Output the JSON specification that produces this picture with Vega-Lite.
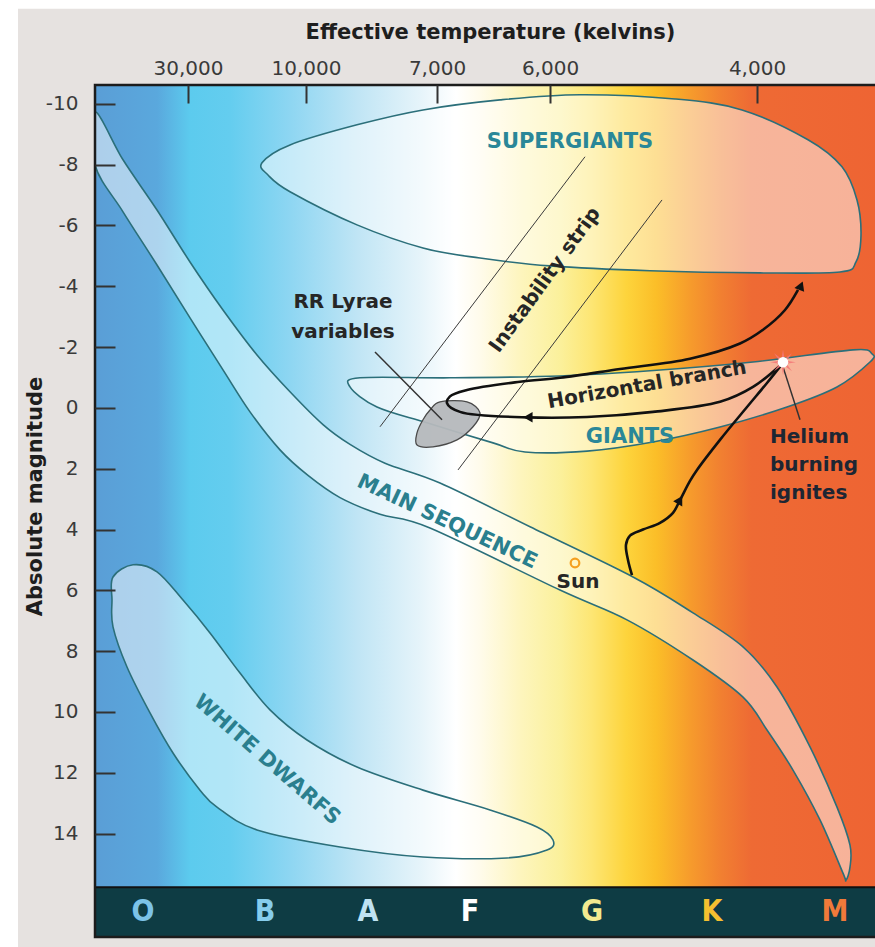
{
  "$schema": "https://vega.github.io/schema/vega-lite/v6.json",
  "width": 780,
  "height": 852,
  "autosize": {"type": "none"},
  "padding": {"left": 95, "top": 85, "right": 0, "bottom": 10},
  "background": "white",
  "config": {
    "view": {"stroke": null},
    "axis": {
      "labelFont": "DejaVu Sans",
      "labelFontSize": 20,
      "labelColor": "#3a3a3a",
      "titleFont": "DejaVu Sans",
      "titleFontSize": 21,
      "titleFontWeight": "bold",
      "titleColor": "#1e1e1e"
    }
  },
  "datasets": {
    "panel": [{"x": -77, "x2": 782, "m": -13.13, "m2": 17.73}],
    "plot": [{"x": 0, "x2": 782, "m": -10.62, "m2": 15.76}],
    "bar": [{"x": 0, "x2": 782, "m": 15.76, "m2": 17.4}],
    "frame": [{"x": 0, "x2": 782, "m": -10.62, "m2": 17.4}],
    "regions": [
      {"region": "ms", "i": 1, "x": 0, "m": -9.74},
      {"region": "ms", "i": 2, "x": 28, "m": -8.16},
      {"region": "ms", "i": 3, "x": 62, "m": -6.51},
      {"region": "ms", "i": 4, "x": 95, "m": -4.8},
      {"region": "ms", "i": 5, "x": 128, "m": -3.22},
      {"region": "ms", "i": 6, "x": 162, "m": -1.74},
      {"region": "ms", "i": 7, "x": 195, "m": -0.53},
      {"region": "ms", "i": 8, "x": 228, "m": 0.55},
      {"region": "ms", "i": 9, "x": 255, "m": 1.2},
      {"region": "ms", "i": 10, "x": 290, "m": 1.82},
      {"region": "ms", "i": 11, "x": 345, "m": 2.47},
      {"region": "ms", "i": 12, "x": 435, "m": 3.91},
      {"region": "ms", "i": 13, "x": 538, "m": 5.56},
      {"region": "ms", "i": 14, "x": 598, "m": 6.74},
      {"region": "ms", "i": 15, "x": 648, "m": 7.86},
      {"region": "ms", "i": 16, "x": 682, "m": 9.18},
      {"region": "ms", "i": 17, "x": 715, "m": 11.15},
      {"region": "ms", "i": 18, "x": 742, "m": 13.13},
      {"region": "ms", "i": 19, "x": 755, "m": 14.38},
      {"region": "ms", "i": 20, "x": 755, "m": 15.1},
      {"region": "ms", "i": 21, "x": 751, "m": 15.53},
      {"region": "ms", "i": 22, "x": 748, "m": 15.3},
      {"region": "ms", "i": 23, "x": 725, "m": 13.55},
      {"region": "ms", "i": 24, "x": 698, "m": 11.91},
      {"region": "ms", "i": 25, "x": 672, "m": 10.59},
      {"region": "ms", "i": 26, "x": 648, "m": 9.51},
      {"region": "ms", "i": 27, "x": 598, "m": 8.29},
      {"region": "ms", "i": 28, "x": 532, "m": 6.97},
      {"region": "ms", "i": 29, "x": 465, "m": 5.99},
      {"region": "ms", "i": 30, "x": 335, "m": 3.95},
      {"region": "ms", "i": 31, "x": 285, "m": 3.5},
      {"region": "ms", "i": 32, "x": 245, "m": 2.95},
      {"region": "ms", "i": 33, "x": 213, "m": 2.22},
      {"region": "ms", "i": 34, "x": 185, "m": 1.38},
      {"region": "ms", "i": 35, "x": 155, "m": 0.13},
      {"region": "ms", "i": 36, "x": 128, "m": -1.25},
      {"region": "ms", "i": 37, "x": 95, "m": -2.96},
      {"region": "ms", "i": 38, "x": 62, "m": -4.7},
      {"region": "ms", "i": 39, "x": 28, "m": -6.45},
      {"region": "ms", "i": 40, "x": 0, "m": -7.99},
      {"region": "sg", "i": 1, "x": 167, "m": -8.06},
      {"region": "sg", "i": 2, "x": 195, "m": -8.65},
      {"region": "sg", "i": 3, "x": 262, "m": -9.31},
      {"region": "sg", "i": 4, "x": 328, "m": -9.8},
      {"region": "sg", "i": 5, "x": 405, "m": -10.13},
      {"region": "sg", "i": 6, "x": 485, "m": -10.3},
      {"region": "sg", "i": 7, "x": 580, "m": -10.16},
      {"region": "sg", "i": 8, "x": 647, "m": -9.8},
      {"region": "sg", "i": 9, "x": 713, "m": -8.82},
      {"region": "sg", "i": 10, "x": 747, "m": -7.93},
      {"region": "sg", "i": 11, "x": 762, "m": -6.84},
      {"region": "sg", "i": 12, "x": 766, "m": -5.69},
      {"region": "sg", "i": 13, "x": 761, "m": -4.8},
      {"region": "sg", "i": 14, "x": 745, "m": -4.47},
      {"region": "sg", "i": 15, "x": 665, "m": -4.44},
      {"region": "sg", "i": 16, "x": 555, "m": -4.51},
      {"region": "sg", "i": 17, "x": 455, "m": -4.67},
      {"region": "sg", "i": 18, "x": 385, "m": -4.93},
      {"region": "sg", "i": 19, "x": 328, "m": -5.26},
      {"region": "sg", "i": 20, "x": 262, "m": -6.02},
      {"region": "sg", "i": 21, "x": 195, "m": -7.11},
      {"region": "sg", "i": 22, "x": 173, "m": -7.66},
      {"region": "gi", "i": 1, "x": 255, "m": -0.69},
      {"region": "gi", "i": 2, "x": 265, "m": -0.99},
      {"region": "gi", "i": 3, "x": 355, "m": -0.99},
      {"region": "gi", "i": 4, "x": 465, "m": -1.05},
      {"region": "gi", "i": 5, "x": 555, "m": -1.22},
      {"region": "gi", "i": 6, "x": 658, "m": -1.51},
      {"region": "gi", "i": 7, "x": 758, "m": -1.91},
      {"region": "gi", "i": 8, "x": 777, "m": -1.78},
      {"region": "gi", "i": 9, "x": 775, "m": -1.51},
      {"region": "gi", "i": 10, "x": 742, "m": -0.69},
      {"region": "gi", "i": 11, "x": 692, "m": -0.03},
      {"region": "gi", "i": 12, "x": 625, "m": 0.63},
      {"region": "gi", "i": 13, "x": 558, "m": 1.12},
      {"region": "gi", "i": 14, "x": 492, "m": 1.42},
      {"region": "gi", "i": 15, "x": 430, "m": 1.45},
      {"region": "gi", "i": 16, "x": 398, "m": 1.15},
      {"region": "gi", "i": 17, "x": 332, "m": 0.49},
      {"region": "gi", "i": 18, "x": 282, "m": -0.03},
      {"region": "wd", "i": 1, "x": 18, "m": 5.56},
      {"region": "wd", "i": 2, "x": 38, "m": 5.16},
      {"region": "wd", "i": 3, "x": 62, "m": 5.39},
      {"region": "wd", "i": 4, "x": 88, "m": 6.32},
      {"region": "wd", "i": 5, "x": 115, "m": 7.4},
      {"region": "wd", "i": 6, "x": 145, "m": 8.72},
      {"region": "wd", "i": 7, "x": 175, "m": 9.93},
      {"region": "wd", "i": 8, "x": 212, "m": 10.92},
      {"region": "wd", "i": 9, "x": 262, "m": 11.81},
      {"region": "wd", "i": 10, "x": 328, "m": 12.57},
      {"region": "wd", "i": 11, "x": 395, "m": 13.22},
      {"region": "wd", "i": 12, "x": 442, "m": 13.78},
      {"region": "wd", "i": 13, "x": 458, "m": 14.21},
      {"region": "wd", "i": 14, "x": 452, "m": 14.54},
      {"region": "wd", "i": 15, "x": 412, "m": 14.8},
      {"region": "wd", "i": 16, "x": 328, "m": 14.77},
      {"region": "wd", "i": 17, "x": 245, "m": 14.44},
      {"region": "wd", "i": 18, "x": 162, "m": 13.88},
      {"region": "wd", "i": 19, "x": 122, "m": 13.13},
      {"region": "wd", "i": 20, "x": 105, "m": 12.57},
      {"region": "wd", "i": 21, "x": 78, "m": 11.35},
      {"region": "wd", "i": 22, "x": 55, "m": 10.03},
      {"region": "wd", "i": 23, "x": 32, "m": 8.52},
      {"region": "wd", "i": 24, "x": 18, "m": 7.2},
      {"region": "wd", "i": 25, "x": 17, "m": 6.32}
    ],
    "rrlyrae": [
      {"i": 1, "x": 345, "m": -0.2},
      {"i": 2, "x": 372, "m": -0.2},
      {"i": 3, "x": 385, "m": 0.16},
      {"i": 4, "x": 378, "m": 0.62},
      {"i": 5, "x": 362, "m": 1.05},
      {"i": 6, "x": 338, "m": 1.28},
      {"i": 7, "x": 322, "m": 1.22},
      {"i": 8, "x": 322, "m": 0.82},
      {"i": 9, "x": 328, "m": 0.39},
      {"i": 10, "x": 335, "m": 0.07}
    ],
    "strip": [
      {"x": 285, "m": 0.62, "x2": 490, "m2": -8.26},
      {"x": 363, "m": 2.04, "x2": 567, "m2": -6.84}
    ],
    "pointers": [
      {"x": 280, "m": -1.84, "x2": 347, "m2": 0.39},
      {"x": 688, "m": -1.35, "x2": 705, "m2": 0.39}
    ],
    "tracks": [
      {"track": "rgb", "i": 1, "x": 537, "m": 5.5},
      {"track": "rgb", "i": 2, "x": 533, "m": 5.0},
      {"track": "rgb", "i": 3, "x": 531, "m": 4.5},
      {"track": "rgb", "i": 4, "x": 535, "m": 4.2},
      {"track": "rgb", "i": 5, "x": 548, "m": 4.0},
      {"track": "rgb", "i": 6, "x": 565, "m": 3.78},
      {"track": "rgb", "i": 7, "x": 578, "m": 3.45},
      {"track": "rgb", "i": 8, "x": 585, "m": 3.03},
      {"track": "rgb", "i": 9, "x": 595, "m": 2.4},
      {"track": "rgb", "i": 10, "x": 602, "m": 2.04},
      {"track": "rgb", "i": 11, "x": 625, "m": 1.05},
      {"track": "rgb", "i": 12, "x": 652, "m": -0.03},
      {"track": "rgb", "i": 13, "x": 672, "m": -0.82},
      {"track": "rgb", "i": 14, "x": 688, "m": -1.48},
      {"track": "hb", "i": 1, "x": 688, "m": -1.48},
      {"track": "hb", "i": 2, "x": 658, "m": -0.69},
      {"track": "hb", "i": 3, "x": 625, "m": -0.2},
      {"track": "hb", "i": 4, "x": 558, "m": 0.13},
      {"track": "hb", "i": 5, "x": 492, "m": 0.3},
      {"track": "hb", "i": 6, "x": 432, "m": 0.31},
      {"track": "hb", "i": 7, "x": 365, "m": 0.13},
      {"track": "hb", "i": 8, "x": 352, "m": -0.16},
      {"track": "hb", "i": 9, "x": 355, "m": -0.38},
      {"track": "hb", "i": 10, "x": 372, "m": -0.59},
      {"track": "hb", "i": 11, "x": 425, "m": -0.86},
      {"track": "hb", "i": 12, "x": 465, "m": -0.99},
      {"track": "hb", "i": 13, "x": 525, "m": -1.28},
      {"track": "hb", "i": 14, "x": 595, "m": -1.62},
      {"track": "hb", "i": 15, "x": 645, "m": -2.12},
      {"track": "hb", "i": 16, "x": 668, "m": -2.57},
      {"track": "hb", "i": 17, "x": 690, "m": -3.22},
      {"track": "hb", "i": 18, "x": 703, "m": -3.88}
    ],
    "arrows": [
      {"kind": "rgb", "x": 585, "m": 3.03},
      {"kind": "hb", "x": 433, "m": 0.31},
      {"kind": "agb", "x": 706, "m": -4.02}
    ],
    "flash": [{"x": 688, "m": -1.5}],
    "sun": [{"x": 480, "m": 5.1}],
    "tealFlat": [
      {"label": "SUPERGIANTS", "x": 475, "m": -8.75},
      {"label": "GIANTS", "x": 535, "m": 0.95}
    ],
    "tealMS": [{"label": "MAIN SEQUENCE", "x": 352, "m": 3.75}],
    "tealWD": [{"label": "WHITE DWARFS", "x": 172, "m": 11.58}],
    "darkFlat": [
      {"label": "RR Lyrae\nvariables", "x": 248, "m": -3.49},
      {"label": "Sun", "x": 483, "m": 5.72}
    ],
    "helium": [{"label": "Helium\nburning\nignites", "x": 675, "m": 0.95}],
    "hbLabel": [{"label": "Horizontal branch", "x": 552, "m": -0.76}],
    "stripLabel": [{"label": "Instability strip", "x": 450, "m": -4.21}],
    "classes": [
      {"cls": "O", "x": 48, "m": 16.58},
      {"cls": "B", "x": 170, "m": 16.58},
      {"cls": "A", "x": 273, "m": 16.58},
      {"cls": "F", "x": 375, "m": 16.58},
      {"cls": "G", "x": 497, "m": 16.58},
      {"cls": "K", "x": 617, "m": 16.58},
      {"cls": "M", "x": 740, "m": 16.58}
    ]
  },
  "encoding": {
    "x": {
      "field": "x",
      "type": "quantitative",
      "scale": {"domain": [0, 780], "nice": false, "zero": false},
      "axis": {
        "orient": "top",
        "zindex": 1,
        "title": "Effective temperature (kelvins)",
        "values": [93, 211, 342, 455, 662],
        "labelExpr": "datum.value == 93 ? '30,000' : datum.value == 211 ? '10,000' : datum.value == 342 ? '7,000' : datum.value == 455 ? '6,000' : '4,000'",
        "ticks": true,
        "tickSize": -18,
        "tickWidth": 2,
        "tickColor": "#333333",
        "domain": false,
        "grid": false,
        "labelPadding": 25,
        "titleX": 395,
        "titleY": -47,
        "titleBaseline": "alphabetic"
      }
    },
    "y": {
      "field": "m",
      "type": "quantitative",
      "scale": {"domain": [-10.62, 17.4], "reverse": true, "nice": false, "zero": false},
      "axis": {
        "zindex": 1,
        "title": "Absolute magnitude",
        "values": [-10, -8, -6, -4, -2, 0, 2, 4, 6, 8, 10, 12, 14],
        "labelExpr": "datum.value < 0 ? '-' + abs(datum.value) : '' + datum.value",
        "ticks": true,
        "tickSize": -20,
        "tickWidth": 2,
        "tickColor": "#333333",
        "domain": false,
        "grid": false,
        "labelPadding": 37,
        "titleX": -54,
        "titleY": 411,
        "titleBaseline": "alphabetic"
      }
    }
  },
  "layer": [
    {
      "data": {"name": "panel"},
      "mark": {"type": "rect", "fill": "#e6e2e0"},
      "encoding": {"x2": {"field": "x2"}, "y2": {"field": "m2"}}
    },
    {
      "data": {"name": "plot"},
      "mark": {
        "type": "rect",
        "fill": {
          "gradient": "linear",
          "x1": 0, "y1": 0, "x2": 1, "y2": 0,
          "stops": [
            {"offset": 0, "color": "#5a9ed6"},
            {"offset": 0.0795, "color": "#5aa8dd"},
            {"offset": 0.1218, "color": "#5ccbee"},
            {"offset": 0.1731, "color": "#64cdef"},
            {"offset": 0.25, "color": "#8ed6f2"},
            {"offset": 0.3359, "color": "#c0e5f5"},
            {"offset": 0.4167, "color": "#e6f4fa"},
            {"offset": 0.4615, "color": "#ffffff"},
            {"offset": 0.4936, "color": "#fffbea"},
            {"offset": 0.5449, "color": "#fdf5bd"},
            {"offset": 0.5962, "color": "#fbf09a"},
            {"offset": 0.6346, "color": "#fde674"},
            {"offset": 0.6795, "color": "#fdd43c"},
            {"offset": 0.7179, "color": "#fbbe28"},
            {"offset": 0.7628, "color": "#f69a2c"},
            {"offset": 0.8013, "color": "#f17f31"},
            {"offset": 0.8397, "color": "#ee6a34"},
            {"offset": 1, "color": "#ee6433"}
          ]
        }
      },
      "encoding": {"x2": {"field": "x2"}, "y2": {"field": "m2"}}
    },
    {
      "data": {"name": "regions"},
      "mark": {"type": "line", "interpolate": "cardinal-closed", "fill": "white", "fillOpacity": 0.5, "stroke": "#2b6f7a", "strokeWidth": 1.6, "clip": true},
      "encoding": {"detail": {"field": "region"}, "order": {"field": "i", "type": "quantitative"}}
    },
    {
      "data": {"name": "rrlyrae"},
      "mark": {"type": "line", "interpolate": "cardinal-closed", "fill": "#b5b8bc", "fillOpacity": 0.95, "stroke": "#4a4a4a", "strokeWidth": 1.3},
      "encoding": {"order": {"field": "i", "type": "quantitative"}}
    },
    {
      "data": {"name": "strip"},
      "mark": {"type": "rule", "stroke": "#3a3a3a", "strokeWidth": 1},
      "encoding": {"x2": {"field": "x2"}, "y2": {"field": "m2"}}
    },
    {
      "data": {"name": "pointers"},
      "mark": {"type": "rule", "stroke": "#333333", "strokeWidth": 1.5},
      "encoding": {"x2": {"field": "x2"}, "y2": {"field": "m2"}}
    },
    {
      "data": {"name": "tracks"},
      "mark": {"type": "line", "interpolate": "catmull-rom", "stroke": "#111111", "strokeWidth": 2.6},
      "encoding": {"detail": {"field": "track"}, "order": {"field": "i", "type": "quantitative"}}
    },
    {
      "data": {"name": "arrows"},
      "transform": [{"filter": "datum.kind == 'rgb'"}],
      "mark": {"type": "point", "shape": "triangle-up", "filled": true, "color": "#111111", "size": 110, "angle": 30, "opacity": 1},
      "encoding": {}
    },
    {
      "data": {"name": "arrows"},
      "transform": [{"filter": "datum.kind == 'agb'"}],
      "mark": {"type": "point", "shape": "triangle-up", "filled": true, "color": "#111111", "size": 110, "angle": 22, "opacity": 1},
      "encoding": {}
    },
    {
      "data": {"name": "arrows"},
      "transform": [{"filter": "datum.kind == 'hb'"}],
      "mark": {"type": "point", "shape": "triangle-left", "filled": true, "color": "#111111", "size": 110, "opacity": 1},
      "encoding": {}
    },
    {
      "data": {"name": "flash"},
      "mark": {"type": "point", "shape": "M1,0L0.277,0.115L0.707,0.707L0.115,0.277L0,1L-0.115,0.277L-0.707,0.707L-0.277,0.115L-1,0L-0.277,-0.115L-0.707,-0.707L-0.115,-0.277L0,-1L0.115,-0.277L0.707,-0.707L0.277,-0.115Z", "filled": true, "color": "#f47878", "size": 650, "opacity": 0.9},
      "encoding": {}
    },
    {
      "data": {"name": "flash"},
      "mark": {"type": "point", "shape": "circle", "filled": true, "color": "#ffffff", "size": 110, "opacity": 1},
      "encoding": {}
    },
    {
      "data": {"name": "sun"},
      "mark": {"type": "point", "shape": "circle", "filled": false, "stroke": "#f5a020", "strokeWidth": 2.2, "size": 75, "opacity": 1},
      "encoding": {}
    },
    {
      "data": {"name": "tealFlat"},
      "mark": {"type": "text", "font": "DejaVu Sans", "fontSize": 21, "fontWeight": "bold", "fill": "#2a8798", "baseline": "middle", "align": "center"},
      "encoding": {"text": {"field": "label"}}
    },
    {
      "data": {"name": "tealMS"},
      "mark": {"type": "text", "font": "DejaVu Sans", "fontSize": 21, "fontWeight": "bold", "fill": "#2a7f8e", "baseline": "middle", "align": "center", "angle": 25},
      "encoding": {"text": {"field": "label"}}
    },
    {
      "data": {"name": "tealWD"},
      "mark": {"type": "text", "font": "DejaVu Sans", "fontSize": 21, "fontWeight": "bold", "fill": "#2a7f8e", "baseline": "middle", "align": "center", "angle": 41},
      "encoding": {"text": {"field": "label"}}
    },
    {
      "data": {"name": "darkFlat"},
      "mark": {"type": "text", "font": "DejaVu Sans", "fontSize": 20, "fontWeight": "bold", "fill": "#262626", "baseline": "middle", "align": "center", "lineBreak": "\n", "lineHeight": 30},
      "encoding": {"text": {"field": "label"}}
    },
    {
      "data": {"name": "helium"},
      "mark": {"type": "text", "font": "DejaVu Sans", "fontSize": 20, "fontWeight": "bold", "fill": "#1d2633", "baseline": "middle", "align": "left", "lineBreak": "\n", "lineHeight": 28},
      "encoding": {"text": {"field": "label"}}
    },
    {
      "data": {"name": "hbLabel"},
      "mark": {"type": "text", "font": "DejaVu Sans", "fontSize": 20, "fontWeight": "bold", "fill": "#262626", "baseline": "middle", "align": "center", "angle": -10},
      "encoding": {"text": {"field": "label"}}
    },
    {
      "data": {"name": "stripLabel"},
      "mark": {"type": "text", "font": "DejaVu Sans", "fontSize": 20, "fontWeight": "bold", "fill": "#262626", "baseline": "middle", "align": "center", "angle": -54},
      "encoding": {"text": {"field": "label"}}
    },
    {
      "data": {"name": "bar"},
      "mark": {"type": "rect", "fill": "#0e3c44", "stroke": "#111111", "strokeWidth": 2},
      "encoding": {"x2": {"field": "x2"}, "y2": {"field": "m2"}}
    },
    {
      "data": {"name": "classes"},
      "mark": {"type": "text", "font": "Liberation Sans Narrow, DejaVu Sans Condensed, DejaVu Sans", "fontSize": 30, "fontWeight": "bold", "baseline": "middle", "align": "center"},
      "encoding": {
        "text": {"field": "cls"},
        "color": {
          "field": "cls",
          "type": "nominal",
          "scale": {"domain": ["O", "B", "A", "F", "G", "K", "M"], "range": ["#7cc3e8", "#86cdec", "#bfe2f2", "#ffffff", "#f2ea90", "#f5c030", "#f07a3a"]},
          "legend": null
        }
      }
    },
    {
      "data": {"name": "frame"},
      "mark": {"type": "rect", "fill": null, "stroke": "#1c1c1c", "strokeWidth": 2.5},
      "encoding": {"x2": {"field": "x2"}, "y2": {"field": "m2"}}
    }
  ]
}
